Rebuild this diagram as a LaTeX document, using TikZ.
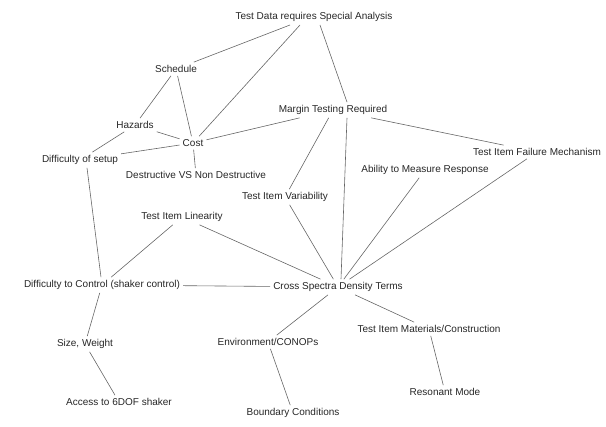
\documentclass[tikz,border=0pt]{standalone}
\usepackage{fontspec}
\setmainfont{Liberation Sans}
\begin{document}
\begin{tikzpicture}[x=1pt,y=-1pt,
  lbl/.style={font=\fontsize{10}{12}\selectfont, text=black!85, inner sep=3pt},
  link/.style={draw=black!60, line width=0.6pt}]
\useasboundingbox (0,0) rectangle (606,427);
\node[lbl] (tds) at (314,17) {Test Data requires Special Analysis};
\node[lbl] (sch) at (176,69) {Schedule};
\node[lbl] (haz) at (135,125) {Hazards};
\node[lbl] (cost) at (193,143) {Cost};
\node[lbl] (dos) at (80,160) {Difficulty of setup};
\node[lbl] (dnd) at (196,175) {Destructive VS Non Destructive};
\node[lbl] (mtr) at (333,110) {Margin Testing Required};
\node[lbl] (tfm) at (537,152) {Test Item Failure Mechanism};
\node[lbl] (amr) at (425,170) {Ability to Measure Response};
\node[lbl] (tiv) at (285,197) {Test Item Variability};
\node[lbl] (til) at (182,217) {Test Item Linearity};
\node[lbl] (dtc) at (102,285) {Difficulty to Control (shaker control)};
\node[lbl] (csd) at (338,287) {Cross Spectra Density Terms};
\node[lbl] (env) at (268,342) {Environment/CONOPs};
\node[lbl] (tmc) at (429,329) {Test Item Materials/Construction};
\node[lbl] (sw) at (85,344) {Size, Weight};
\node[lbl] (rm) at (445,392) {Resonant Mode};
\node[lbl] (acc) at (119,402) {Access to 6DOF shaker};
\node[lbl] (bc) at (293,413) {Boundary Conditions};

\coordinate (tdsA) at (290,25);
\coordinate (tdsB) at (300,25);
\coordinate (tdsC) at (320,25);
\draw[link] (tdsA) -- (sch);
\draw[link] (tdsB) -- (cost);
\draw[link] (tdsC) -- ([xshift=14pt]mtr.north);
\draw[link] (sch) -- (haz);
\draw[link] (sch) -- (cost);
\draw[link] (haz) -- (cost);
\draw[link] (haz) -- (dos);
\draw[link] (cost) -- (dos);
\draw[link] (cost) -- (mtr);
\draw[link] (cost) -- (dnd);
\draw[link] (mtr) -- (tfm);
\draw[link] (mtr) -- (tiv);
\draw[link] ([xshift=14pt]mtr.south) -- ([xshift=3pt]csd.north);
\draw[link] (tiv) -- (csd);
\draw[link] (amr) -- (csd);
\draw[link] (tfm) -- (csd);
\draw[link] (til) -- (csd);
\draw[link] (til) -- (dtc);
\draw[link] ([xshift=7pt]dos.south) -- (dtc);
\draw[link] (dtc) -- (csd);
\draw[link] (dtc) -- (sw);
\draw[link] (sw) -- (acc);
\draw[link] (csd) -- (env);
\draw[link] (csd) -- (tmc);
\draw[link] (env) -- (bc);
\draw[link] (tmc) -- (rm);
\end{tikzpicture}
\end{document}
